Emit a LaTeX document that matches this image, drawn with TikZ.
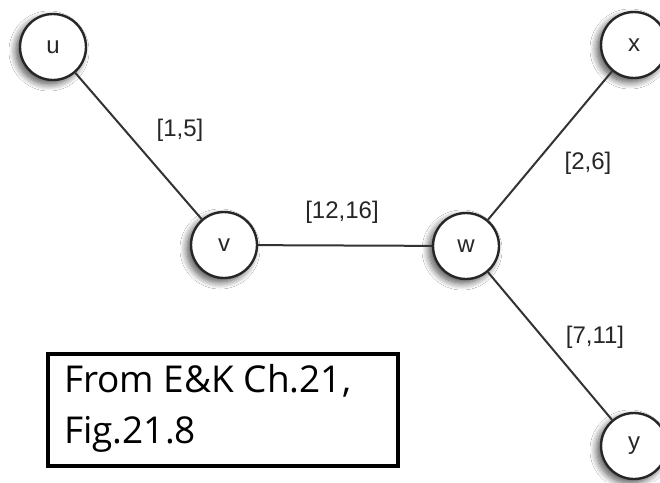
\documentclass[tikz,border=0pt]{standalone}
\usepackage{fontspec}
\setmainfont{Liberation Sans}
\newfontfamily\boxfont{Open Sans}
\usetikzlibrary{shadows.blur}
\begin{document}
\begin{tikzpicture}[x=1pt,y=-1pt,
  vert/.style={circle,draw=black!85,line width=2.4pt,fill=white,minimum size=66pt,inner sep=0pt,
    font=\fontsize{24}{26}\selectfont\color{black!85},
    blur shadow={shadow xshift=-4pt,shadow yshift=-4pt,shadow blur steps=10,shadow blur radius=7pt,shadow opacity=70}},
  edge/.style={draw=black!80,line width=2pt},
  lbl/.style={font=\fontsize{24}{26}\selectfont\color{black!85}}]
\useasboundingbox (0,0) rectangle (660,482);
\path[fill=white] (0,0) rectangle (660,482);
\node[vert] (u) at (53,47) {u};
\node[vert] (v) at (224,245) {v};
\node[vert] (w) at (466,246) {w};
\node[vert] (x) at (634,45) {x};
\node[vert] (y) at (634,446) {y};
\draw[edge] (u) -- (v);
\draw[edge] (v) -- (w);
\draw[edge] (w) -- (x);
\draw[edge] (w) -- (y);
\node[lbl] (l1) at (180,130) {[1,5]};
\node[lbl] (l2) at (342,212) {[12,16]};
\node[lbl] (l3) at (588,163) {[2,6]};
\node[lbl] (l4) at (595,337) {[7,11]};
\draw[line width=4pt] (48,354) rectangle (398,466);
\node[anchor=base west,inner sep=0pt,font=\boxfont\fontsize{37}{40}\selectfont] (t1) at (64,392) {From E\&K Ch.21,};
\node[anchor=base west,inner sep=0pt,font=\boxfont\fontsize{37}{40}\selectfont] (t2) at (64,443) {Fig.21.8};
\end{tikzpicture}
\end{document}
